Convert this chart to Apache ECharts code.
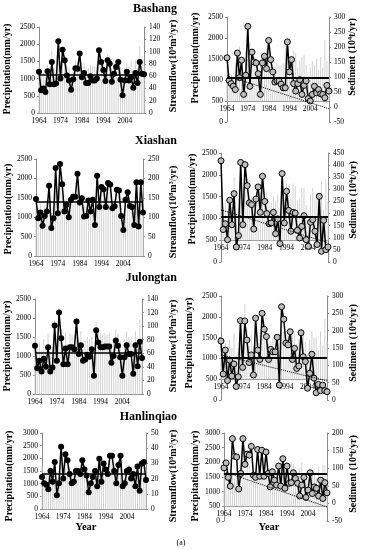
<!DOCTYPE html>
<html><head><meta charset="utf-8">
<script src="https://cdn.jsdelivr.net/npm/echarts@6/dist/echarts.min.js"></script>
<style>html,body{margin:0;padding:0;background:#fff}#c{width:365px;height:550px}</style>
</head><body><div id="c"></div>
<script>
const years = [];
for (let y = 1964; y <= 2013; y++) years.push(String(y));
const xTickLabels = ['1964','1974','1984','1994','2004'];

const bashangPrecip = [1350,1100,1150,1050,1400,1250,1800,1300,1250,1700,1500,1900,1650,1400,1300,1150,1350,1550,1500,1750,1400,1450,1250,1300,1400,1350,1350,1400,1850,1600,1500,1300,1700,1650,1300,1450,1550,1600,1350,1100,1300,1450,1350,1500,1250,1550,1300,1950,1450,1400];
const bashangFlow = [67,37,40,34,68,47,83,47,48,117,56,103,86,61,53,38,55,73,72,97,58,65,49,49,60,53,53,56,102,83,70,52,86,80,51,64,75,83,54,29,53,67,53,58,41,65,49,83,64,63];
const bashangSed = [164,89,78,69,58,180,98,156,42,106,269,69,183,150,147,111,42,147,169,128,222,158,117,83,87,87,76,64,64,217,117,158,78,53,78,91,42,72,87,28,20,42,69,47,58,44,42,31,72,53];

const xiashanPrecip = [1500,1250,1350,1150,1300,1450,1950,1100,1250,2100,1350,2200,1850,1400,1500,1300,1500,1650,1600,1950,1500,1600,1300,1350,1500,1400,1550,1150,1950,1450,1800,1750,1450,1800,1750,1400,1450,1700,1700,1300,1100,1550,1700,1450,1450,1200,1850,1200,1900,1400];
const xiashanFlow = [147,97,112,78,103,115,181,72,97,227,110,237,185,115,132,100,145,153,153,212,138,149,102,103,143,115,145,80,207,126,178,172,126,188,184,123,128,171,169,103,67,145,164,129,126,80,190,76,190,112];
const xiashanSed = [418,134,158,92,255,154,282,62,109,411,154,402,315,244,237,136,260,310,205,354,250,200,158,161,205,117,178,76,365,161,292,213,127,205,202,131,99,147,191,92,65,164,175,127,72,271,44,172,51,62];

const julongtanPrecip = [1500,1200,1350,1150,1450,1250,1600,1100,1250,1950,1350,2300,1700,1300,1600,1300,1600,1550,1550,2000,1450,1650,1350,1400,1500,1450,1500,1100,1900,1650,1600,1550,1600,1550,1600,1350,1450,1700,1600,1400,1100,1450,1650,1500,1500,1200,1650,1300,1950,1400];
const julongtanFlow = [71,38,49,33,52,40,69,33,39,101,49,120,82,44,67,44,69,69,66,107,59,72,49,51,58,55,66,27,94,76,69,69,70,70,70,46,56,79,71,54,27,54,72,59,59,30,72,41,77,53];
const julongtanSed = [170,75,144,56,115,69,104,39,67,229,94,228,173,108,130,72,236,144,117,250,204,183,117,146,139,139,181,43,269,233,164,159,197,117,149,91,98,194,125,111,34,77,132,63,21,45,27,43,27,24];

const hanlinqiaoPrecip = [1700,1500,1450,1350,1650,1450,1900,1250,1500,2300,1600,2100,1900,1650,1500,1500,1700,1750,1650,1900,1750,1600,1300,1500,1600,1700,1450,1950,1500,1800,1700,1650,2000,1950,1650,1500,1800,2000,1450,1500,1700,1750,1600,1650,1450,1850,1350,1900,1900,1550];
const hanlinqiaoFlow = [21,17,16,13,25,18,31,9,17,41,20,36,32,23,17,18,25,25,23,32,26,22,11,17,21,25,15,33,18,30,26,23,35,35,25,17,29,35,15,17,25,26,20,23,15,28,12,30,31,19];
const hanlinqiaoSed = [101,115,74,49,184,134,132,41,85,184,111,140,137,162,80,74,153,77,151,77,146,85,47,90,66,52,106,49,127,43,106,57,59,87,71,57,21,52,74,17,38,87,28,47,43,21,66,14,59,30];

const meanFlow = [62, 140, 61, 23];
const meanSed = [97, 186, 123, 83];
const trendSed = [[104,-6],[215,80],[130,55],[90,-10]];
const stationNames = ['Bashang','Xiashan','Julongtan','Hanlinqiao'];

const FF = 'Liberation Serif';
const panels = [
  {kind:'flow', precip:bashangPrecip, vals:bashangFlow, mean:meanFlow[0], grid:{left:39,top:27,width:105,height:86}, lMax:2500, rMin:0, rMax:140, rInt:20, lName:[7,69], rName:[173,66]},
  {kind:'sed', precip:bashangPrecip, vals:bashangSed, mean:meanSed[0], trend:trendSed[0], grid:{left:227,top:17,width:102,height:105}, lMax:2500, rMin:-50, rMax:300, rInt:50, lName:[195,58], rName:[352,57]},
  {kind:'flow', precip:xiashanPrecip, vals:xiashanFlow, mean:meanFlow[1], grid:{left:36,top:159,width:107,height:97}, lMax:2500, rMin:0, rMax:250, rInt:50, lName:[8,209], rName:[173,212]},
  {kind:'sed', precip:xiashanPrecip, vals:xiashanSed, mean:meanSed[1], trend:trendSed[1], grid:{left:221,top:153,width:107,height:109}, lMax:2500, rMin:0, rMax:450, rInt:50, lName:[192,199], rName:[353,200]},
  {kind:'flow', precip:julongtanPrecip, vals:julongtanFlow, mean:meanFlow[2], grid:{left:35,top:299,width:107,height:95}, lMax:2500, rMin:0, rMax:140, rInt:20, lName:[7,346], rName:[173,346]},
  {kind:'sed', precip:julongtanPrecip, vals:julongtanSed, mean:meanSed[2], trend:trendSed[2], grid:{left:221,top:296,width:106,height:104}, lMax:2500, rMin:0, rMax:300, rInt:50, lName:[189,343], rName:[353,343]},
  {kind:'flow', precip:hanlinqiaoPrecip, vals:hanlinqiaoFlow, mean:meanFlow[3], grid:{left:42,top:433,width:104,height:76}, lMax:3000, rMin:0, rMax:50, rInt:10, lName:[9,476], rName:[173,476]},
  {kind:'sed', precip:hanlinqiaoPrecip, vals:hanlinqiaoSed, mean:meanSed[3], trend:trendSed[3], grid:{left:224,top:433,width:103,height:88}, lMax:3000, rMin:-50, rMax:200, rInt:50, lName:[195,476], rName:[353,474]}
];

const grids = [], xAxes = [], yAxes = [], series = [], graphics = [];
const lbl = {fontFamily:FF, fontSize:7.5, color:'#000'};
const plain = v => String(v);
panels.forEach((p, i) => {
  grids.push(Object.assign({}, p.grid));
  xAxes.push({
    type:'category', gridIndex:i, data:years, boundaryGap:false,
    offset: p.kind === 'sed' ? -p.grid.height * 500 / p.lMax : 0,
    axisLine:{show:true, onZero:false, lineStyle:{color:'#9a9a9a', width:1}},
    axisTick:{show:false},
    axisLabel:Object.assign({margin:4, interval:(idx, v) => xTickLabels.includes(v), showMinLabel:true}, lbl),
    splitLine:{show:false}
  });
  yAxes.push({
    type:'value', gridIndex:i, position:'left', min:0, max:p.lMax, interval:500,
    axisLine:{show:true, lineStyle:{color:'#8a8a8a'}}, axisTick:{show:true, length:2, lineStyle:{color:'#8a8a8a'}},
    splitLine:{show:false}, axisLabel:Object.assign({margin:4, formatter:plain}, lbl)
  });
  yAxes.push({
    type:'value', gridIndex:i, position:'right', min:p.rMin, max:p.rMax, interval:p.rInt,
    axisLine:{show:true, lineStyle:{color:'#8a8a8a'}}, axisTick:{show:true, length:2, lineStyle:{color:'#8a8a8a'}},
    splitLine:{show:false}, axisLabel:Object.assign({margin:5, formatter:plain}, lbl)
  });
  const barStyle = {color:'#d2d2d2'};
  if (p.kind === 'flow') {
    series.push({type:'bar', xAxisIndex:i, yAxisIndex:2*i, data:p.precip, barWidth:1, itemStyle:barStyle, silent:true, z:1});
    series.push({type:'line', xAxisIndex:i, yAxisIndex:2*i+1, data:p.vals, symbol:'circle', symbolSize:6, showAllSymbol:true,
      lineStyle:{color:'#000', width:1.5}, itemStyle:{color:'#000'}, z:3, silent:true,
      markLine:{silent:true, symbol:'none', label:{show:false}, lineStyle:{color:'#000', width:1.6, type:'solid'}, data:[{yAxis:p.mean}]}
    });
  } else {
    series.push({type:'bar', xAxisIndex:i, yAxisIndex:2*i, stack:'p'+i, data:p.precip.map(() => 500), barWidth:1, itemStyle:{color:'rgba(0,0,0,0)'}, silent:true, z:1});
    series.push({type:'bar', xAxisIndex:i, yAxisIndex:2*i, stack:'p'+i, data:p.precip.map(v => v - 500), barWidth:1, itemStyle:barStyle, silent:true, z:1});
    series.push({type:'line', xAxisIndex:i, yAxisIndex:2*i+1, data:p.vals, symbol:'circle', symbolSize:6, showAllSymbol:true,
      lineStyle:{color:'#000', width:1.5}, itemStyle:{color:'#bdbdbd', borderColor:'#000', borderWidth:1}, z:3, silent:true,
      markLine:{silent:true, symbol:'none', label:{show:false}, lineStyle:{color:'#000', width:1.8, type:'solid'},
        data:[
          {yAxis:p.mean},
          [{coord:[years[0], p.trend[0]], lineStyle:{type:'dotted', width:1, color:'#000'}}, {coord:[years[years.length-1], p.trend[1]]}]
        ]}
    });
  }
  const leftName = 'Precipitation(mm/yr)';
  const rightName = p.kind === 'flow' ? 'Streamflow(10⁸m³/yr)' : 'Sediment (10⁴t/yr)';
  [[leftName, p.lName], [rightName, p.rName]].forEach(([t, pos]) => {
    graphics.push({type:'text', x:pos[0], y:pos[1], rotation:Math.PI/2,
      style:{text:t, fontFamily:FF, fontSize:10, fontWeight:'bold', fill:'#000', align:'center', verticalAlign:'middle', textAlign:'center', textVerticalAlign:'middle'}});
  });
});

const titlePos = [[177,9],[177,141],[177,278],[177,417]];
stationNames.forEach((n, k) => {
  graphics.push({type:'text', x:titlePos[k][0], y:titlePos[k][1],
    style:{text:n, fontFamily:FF, fontSize:12, fontWeight:'bold', fill:'#000', align:'right', verticalAlign:'middle', textAlign:'right', textVerticalAlign:'middle'}});
});
[[86,527],[269,527]].forEach(pos => {
  graphics.push({type:'text', x:pos[0], y:pos[1],
    style:{text:'Year', fontFamily:FF, fontSize:10.5, fontWeight:'bold', fill:'#000', align:'center', verticalAlign:'middle', textAlign:'center', textVerticalAlign:'middle'}});
});
graphics.push({type:'text', x:181, y:543, style:{text:'(a)', fontFamily:FF, fontSize:8, fill:'#000', align:'center', verticalAlign:'middle', textAlign:'center', textVerticalAlign:'middle'}});

const chart = echarts.init(document.getElementById('c'), null, {renderer:'canvas'});
chart.setOption({
  animation:false, backgroundColor:'#fff',
  grid:grids, xAxis:xAxes, yAxis:yAxes, series:series, graphic:graphics
});
</script></body></html>
